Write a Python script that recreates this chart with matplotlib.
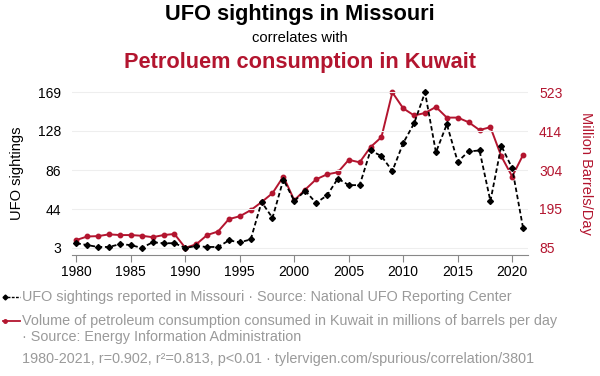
import matplotlib.pyplot as plt

plt.rcParams['font.family'] = ['Liberation Sans', 'DejaVu Sans']

years = list(range(1980, 2022))
ufo = [8, 6, 4, 4, 7, 6, 3, 9, 8, 8, 3, 5, 4, 4, 11, 9, 12, 52, 35, 76,
       53, 64, 51, 59, 77, 70, 70, 107, 101, 85, 115, 136, 169, 105, 135, 95,
       106, 107, 53, 112, 88, 24]
oil = [107, 117, 118, 123, 121, 121, 119, 115, 121, 124, 85, 95, 121, 131, 166, 174,
       191, 214, 239, 286, 219, 249, 278, 292, 298, 333, 326, 369, 397, 523,
       478, 458, 465, 482, 452, 452, 439, 417, 425, 343, 286, 347]
left_ticks = [3, 44, 86, 128, 169]
right_ticks = [85, 195, 304, 414, 523]
x_ticks = list(range(1980, 2021, 5))

red = '#b3152f'
grey = '#9a9a9a'

fig = plt.figure(figsize=(6, 3.76), dpi=100)
ax = fig.add_axes([0.12, 0.322, 0.76, 0.436])
ax2 = ax.twinx()

ax2.plot(years, oil, color=red, lw=1.4, marker='o', ms=3.2, zorder=2, clip_on=False)
ax.plot(years, ufo, color='black', lw=1.3, ls=(0, (2.5, 1.5)), marker='D', ms=3, zorder=3,
        clip_on=False)
ax.set_zorder(ax2.get_zorder() + 1)
ax.patch.set_visible(False)

ax.set_xlim(1979.6, 2021.45)
ax.set_ylim(-4.5, 170.5)
ax2.set_ylim(65, 527)
ax.set_yticks(left_ticks)
ax2.set_yticks(right_ticks)
ax.set_xticks(x_ticks)
ax.grid(axis='y', color='#eeeeee', lw=0.8)
ax.set_axisbelow(True)

for a in (ax, ax2):
    for s in ('top', 'left', 'right'):
        a.spines[s].set_visible(False)
    a.spines['bottom'].set_color('#888888')
ax2.spines['bottom'].set_visible(False)
ax.tick_params(axis='x', colors='#888888', length=5, labelsize=10, labelcolor='black', pad=2)
ax.tick_params(axis='y', length=0, labelsize=10, pad=8)
ax2.tick_params(axis='y', length=0, labelsize=10, labelcolor=red, pad=8)

ax.set_ylabel('UFO sightings', fontsize=10.5, labelpad=10)
ax2.set_ylabel('Million Barrels/Day', fontsize=10.5, color=red, rotation=270, labelpad=22)

fig.text(0.5, 1 - 20 / 376, 'UFO sightings in Missouri', ha='center', va='baseline',
         fontsize=15.7, fontweight='bold')
fig.text(0.5, 1 - 42 / 376, 'correlates with', ha='center', va='baseline', fontsize=10.6)
fig.text(0.5, 1 - 68 / 376, 'Petroluem consumption in Kuwait', ha='center', va='baseline',
         fontsize=15.7, fontweight='bold', color=red)

# legend block
fig.lines.append(plt.Line2D([0.005, 0.033], [1 - 297 / 376] * 2, transform=fig.transFigure,
                            color='black', lw=1, ls=(0, (2, 1))))
fig.lines.append(plt.Line2D([0.008], [1 - 297 / 376], transform=fig.transFigure,
                            color='black', marker='D', ms=2.5))
fig.lines.append(plt.Line2D([0.005, 0.033], [1 - 321 / 376] * 2, transform=fig.transFigure,
                            color=red, lw=1.3))
fig.lines.append(plt.Line2D([0.008], [1 - 321 / 376], transform=fig.transFigure,
                            color=red, marker='o', ms=2.5))
fig.text(0.037, 1 - 301 / 376, 'UFO sightings reported in Missouri · Source: National UFO Reporting Center',
         va='baseline', fontsize=10.4, color=grey)
fig.text(0.037, 1 - 325 / 376, 'Volume of petroleum consumption consumed in Kuwait in millions of barrels per day',
         va='baseline', fontsize=10.4, color=grey)
fig.text(0.037, 1 - 341 / 376, '· Source: Energy Information Administration',
         va='baseline', fontsize=10.4, color=grey)
fig.text(0.037, 1 - 363 / 376, '1980-2021, r=0.902, r²=0.813, p<0.01 · tylervigen.com/spurious/correlation/3801',
         va='baseline', fontsize=10.4, color=grey)

fig.savefig('out.png', dpi=100)
